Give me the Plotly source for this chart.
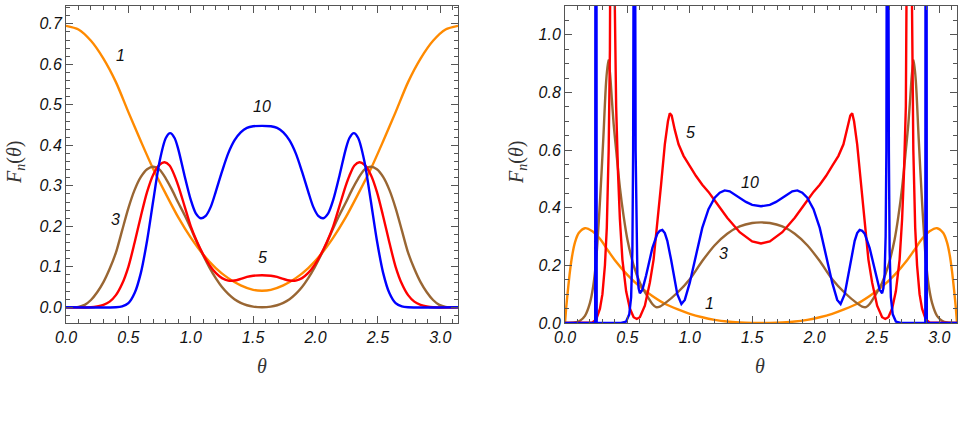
import plotly.graph_objects as go

PI = 3.14159265

# ---------------- Left panel data ----------------
th_L1 = [0, 0.1, 0.2, 0.3, 0.4, 0.5, 0.6, 0.7, 0.8, 0.9, 1.0, 1.1, 1.2, 1.3, 1.4, 1.5, 1.5708,
         1.6416, 1.7416, 1.8416, 1.9416, 2.0416, 2.1416, 2.2416, 2.3416, 2.4416, 2.5416, 2.6416,
         2.7416, 2.8416, 2.9416, 3.0416, 3.1416]
F_L1 = [0.695, 0.686, 0.658, 0.614, 0.556, 0.482, 0.41, 0.341, 0.28, 0.222, 0.172, 0.13, 0.097,
        0.072, 0.054, 0.043, 0.041,
        0.043, 0.054, 0.072, 0.097, 0.13, 0.172, 0.222, 0.28, 0.341, 0.41, 0.482, 0.556, 0.614,
        0.658, 0.686, 0.695]

th_L3 = [0, 0.1, 0.15, 0.2, 0.25, 0.3, 0.35, 0.4, 0.45, 0.5, 0.55, 0.6, 0.65, 0.7, 0.75, 0.8,
         0.85, 0.9, 0.95, 1.0, 1.05, 1.1, 1.15, 1.2, 1.25, 1.3, 1.35, 1.4, 1.45, 1.5, 1.5708,
         1.6416, 1.6916, 1.7416, 1.7916, 1.8416, 1.8916, 1.9416, 1.9916, 2.0416, 2.0916, 2.1416,
         2.1916, 2.2416, 2.2916, 2.3416, 2.3916, 2.4416, 2.4916, 2.5416, 2.5916, 2.6416, 2.6916,
         2.7416, 2.7916, 2.8416, 2.8916, 2.9416, 2.9916, 3.0416, 3.1416]
F_L3 = [0, 0.001, 0.006, 0.018, 0.037, 0.062, 0.095, 0.135, 0.19, 0.245, 0.29, 0.322, 0.341,
        0.347, 0.34, 0.318, 0.29, 0.258, 0.228, 0.195, 0.16, 0.128, 0.098, 0.072, 0.05, 0.033,
        0.02, 0.011, 0.005, 0.0015, 0,
        0.0015, 0.005, 0.011, 0.02, 0.033, 0.05, 0.072, 0.098, 0.128, 0.16, 0.195, 0.228, 0.258,
        0.29, 0.318, 0.34, 0.347, 0.341, 0.322, 0.29, 0.245, 0.19, 0.135, 0.095, 0.062, 0.037,
        0.018, 0.006, 0.001, 0]

th_L5 = [0, 0.2, 0.25, 0.3, 0.35, 0.4, 0.45, 0.5, 0.55, 0.6, 0.65, 0.7, 0.75, 0.79, 0.83, 0.87,
         0.9, 0.95, 1.0, 1.05, 1.1, 1.15, 1.2, 1.25, 1.3, 1.35, 1.4, 1.45, 1.5, 1.5708,
         1.6416, 1.6916, 1.7416, 1.7916, 1.8416, 1.8916, 1.9416, 1.9916, 2.0416, 2.0916, 2.1416,
         2.1916, 2.2416, 2.2716, 2.3116, 2.3516, 2.3916, 2.4416, 2.4916, 2.5416, 2.5916, 2.6416,
         2.6916, 2.7416, 2.7916, 2.8416, 2.8916, 2.9416, 3.1416]
F_L5 = [0, 0, 0.002, 0.006, 0.014, 0.03, 0.058, 0.1, 0.16, 0.225, 0.285, 0.328, 0.352, 0.358,
        0.35, 0.325, 0.3, 0.25, 0.2, 0.162, 0.13, 0.104, 0.085, 0.072, 0.066, 0.066, 0.07, 0.075,
        0.078, 0.079,
        0.078, 0.075, 0.07, 0.066, 0.066, 0.072, 0.085, 0.104, 0.13, 0.162, 0.2, 0.25, 0.3,
        0.325, 0.35, 0.358, 0.352, 0.328, 0.285, 0.225, 0.16, 0.1, 0.058, 0.03, 0.014, 0.006,
        0.002, 0, 0]

th_L10 = [0, 0.4, 0.45, 0.5, 0.55, 0.6, 0.65, 0.7, 0.75, 0.8, 0.835, 0.87, 0.9, 0.95, 1.0, 1.04,
          1.08, 1.12, 1.16, 1.2, 1.25, 1.3, 1.35, 1.4, 1.45, 1.5, 1.5708,
          1.6416, 1.6916, 1.7416, 1.7916, 1.8416, 1.8916, 1.9416, 1.9816, 2.0216, 2.0616, 2.1016,
          2.1416, 2.1916, 2.2416, 2.2716, 2.3066, 2.3416, 2.3916, 2.4416, 2.4916, 2.5416, 2.5916,
          2.6416, 2.6916, 2.7416, 3.1416]
F_L10 = [0, 0, 0.002, 0.01, 0.035, 0.085, 0.165, 0.265, 0.36, 0.418, 0.43, 0.418, 0.39, 0.325,
         0.265, 0.232, 0.22, 0.226, 0.248, 0.285, 0.335, 0.38, 0.412, 0.432, 0.443, 0.447, 0.448,
         0.447, 0.443, 0.432, 0.412, 0.38, 0.335, 0.285, 0.248, 0.226, 0.22, 0.232, 0.265, 0.325,
         0.39, 0.418, 0.43, 0.418, 0.36, 0.265, 0.165, 0.085, 0.035, 0.01, 0.002, 0, 0]

# ---------------- Right panel data ----------------
th_R1 = [0, 0.01, 0.02, 0.04, 0.06, 0.08, 0.11, 0.16, 0.22, 0.28, 0.35, 0.4, 0.5, 0.6, 0.7, 0.8,
         0.9, 1.0, 1.1, 1.2, 1.3, 1.4, 1.5, 1.5708,
         1.6416, 1.7416, 1.8416, 1.9416, 2.0416, 2.1416, 2.2416, 2.3416, 2.4416, 2.5416, 2.6416,
         2.7416, 2.7916, 2.8616, 2.9216, 2.9816, 3.0316, 3.0616, 3.0816, 3.1016, 3.1216, 3.1316,
         3.1416]
F_R1 = [0, 0.055, 0.1, 0.18, 0.24, 0.28, 0.312, 0.329, 0.318, 0.292, 0.248, 0.218, 0.167, 0.126,
        0.094, 0.067, 0.048, 0.032, 0.02, 0.011, 0.005, 0.002, 0.0004, 0,
        0.0004, 0.002, 0.005, 0.011, 0.02, 0.032, 0.048, 0.067, 0.094, 0.126, 0.167, 0.218,
        0.248, 0.292, 0.318, 0.329, 0.312, 0.28, 0.24, 0.18, 0.1, 0.055, 0]

th_R3 = [0, 0.08, 0.12, 0.16, 0.2, 0.227, 0.25, 0.28, 0.307, 0.33, 0.347, 0.36, 0.375, 0.39,
         0.41, 0.44, 0.47, 0.5, 0.55, 0.6, 0.65, 0.7, 0.73, 0.76, 0.8, 0.9, 1.0, 1.1, 1.2, 1.3,
         1.4, 1.5, 1.5708,
         1.6416, 1.7416, 1.8416, 1.9416, 2.0416, 2.1416, 2.2416, 2.3416, 2.3816, 2.4116, 2.4416,
         2.4916, 2.5416, 2.5916, 2.6416, 2.6716, 2.7016, 2.7316, 2.7516, 2.7666, 2.7816, 2.7946,
         2.8116, 2.8346, 2.8616, 2.8916, 2.9146, 2.9416, 2.9816, 3.0216, 3.0616, 3.1416]
F_R3 = [0, 0.002, 0.008, 0.025, 0.07, 0.13, 0.22, 0.42, 0.64, 0.84, 0.912, 0.87, 0.78, 0.69,
        0.6, 0.47, 0.37, 0.29, 0.2, 0.14, 0.1, 0.066, 0.055, 0.057, 0.068, 0.105, 0.152, 0.215,
        0.27, 0.31, 0.335, 0.347, 0.349,
        0.347, 0.335, 0.31, 0.27, 0.215, 0.152, 0.105, 0.068, 0.057, 0.055, 0.066, 0.1, 0.14,
        0.2, 0.29, 0.37, 0.47, 0.6, 0.69, 0.78, 0.87, 0.912, 0.84, 0.64, 0.42, 0.22, 0.13, 0.07,
        0.025, 0.008, 0.002, 0]

th_R5 = [0, 0.22, 0.25, 0.28, 0.3, 0.32, 0.335, 0.35, 0.36, 0.367, 0.378, 0.39, 0.398, 0.41,
         0.425, 0.44, 0.46, 0.49, 0.52, 0.55, 0.575, 0.6, 0.64, 0.68, 0.71, 0.74, 0.77, 0.8,
         0.825, 0.84, 0.855, 0.88, 0.91, 0.95, 1.0, 1.05, 1.1, 1.15, 1.2, 1.3, 1.4, 1.5, 1.5708,
         1.6416, 1.7416, 1.8416, 1.9416, 1.9916, 2.0416, 2.0916, 2.1416, 2.1916, 2.2316, 2.2616,
         2.2866, 2.3016, 2.3166, 2.3416, 2.3716, 2.4016, 2.4316, 2.4616, 2.5016, 2.5416, 2.5666,
         2.5916, 2.6216, 2.6516, 2.6816, 2.7016, 2.7166, 2.7316, 2.7436, 2.7516, 2.7636, 2.7746,
         2.7816, 2.7916, 2.8066, 2.8216, 2.8416, 2.8616, 2.8916, 2.9216, 3.1416]
F_R5 = [0, 0.002, 0.012, 0.05, 0.1, 0.2, 0.33, 0.6, 0.95, 1.4, 3.0, 1.4, 1.05, 0.75, 0.52, 0.36,
        0.22, 0.11, 0.05, 0.02, 0.014, 0.02, 0.06, 0.14, 0.22, 0.34, 0.48, 0.62, 0.7, 0.728,
        0.72, 0.67, 0.62, 0.58, 0.545, 0.51, 0.48, 0.455, 0.425, 0.365, 0.315, 0.283, 0.276,
        0.283, 0.315, 0.365, 0.425, 0.455, 0.48, 0.51, 0.545, 0.58, 0.62, 0.67, 0.72, 0.728,
        0.7, 0.62, 0.48, 0.34, 0.22, 0.14, 0.06, 0.02, 0.014, 0.02, 0.05, 0.11, 0.22, 0.36,
        0.52, 0.75, 1.05, 1.4, 3.0, 1.4, 0.95, 0.6, 0.33, 0.2, 0.1, 0.05, 0.012, 0.002, 0]

th_R10 = [0, 0.242, 0.248, 0.254, 0.45, 0.49, 0.515, 0.53, 0.54, 0.546, 0.551, 0.556, 0.561,
          0.566, 0.572, 0.58, 0.59, 0.6, 0.62, 0.65, 0.7, 0.74, 0.76, 0.78, 0.8, 0.82, 0.85,
          0.9, 0.933, 0.96, 1.0, 1.05, 1.1, 1.15, 1.2, 1.24, 1.28, 1.32, 1.38, 1.45, 1.5, 1.5708,
          1.6416, 1.6916, 1.7616, 1.8216, 1.8616, 1.9016, 1.9416, 1.9916, 2.0416, 2.0916, 2.1416,
          2.1816, 2.2086, 2.2416, 2.2916, 2.3216, 2.3416, 2.3616, 2.3816, 2.4016, 2.4416, 2.4916,
          2.5216, 2.5416, 2.5516, 2.5616, 2.5696, 2.5756, 2.5806, 2.5856, 2.5906, 2.5956, 2.6016,
          2.6116, 2.6266, 2.6516, 2.6916, 2.8876, 2.8936, 2.8996, 3.1416]
F_R10 = [0, 0, 5.0, 0, 0, 0.005, 0.03, 0.09, 0.25, 0.6, 1.5, 3.0, 1.5, 0.6, 0.3, 0.17, 0.12,
         0.103, 0.115, 0.165, 0.26, 0.31, 0.32, 0.323, 0.312, 0.285, 0.22, 0.1, 0.066, 0.08,
         0.14, 0.24, 0.33, 0.395, 0.435, 0.452, 0.46, 0.457, 0.44, 0.42, 0.41, 0.405,
         0.41, 0.42, 0.44, 0.457, 0.46, 0.452, 0.435, 0.395, 0.33, 0.24, 0.14, 0.08, 0.066, 0.1,
         0.22, 0.285, 0.312, 0.323, 0.32, 0.31, 0.26, 0.165, 0.115, 0.103, 0.12, 0.17, 0.3, 0.6,
         1.5, 3.0, 1.5, 0.6, 0.25, 0.09, 0.03, 0.005, 0, 0, 5.0, 0, 0]

# curve labels
labels_L = ["1", "10", "3", "5"]
lab_L_x = [0.433, 1.569, 0.393, 1.574]
lab_L_y = [0.623, 0.495, 0.216, 0.123]
labels_R = ["5", "10", "3", "1"]
lab_R_x = [1.006, 1.48, 1.27, 1.16]
lab_R_y = [0.66, 0.488, 0.242, 0.068]

ORANGE = "#FF8A00"
BROWN = "#996633"
RED = "#FF0000"
BLUE = "#0000FF"
LW = 2.4

fig = go.Figure()

def add(x, y, color, xa, ya, shape="spline"):
    fig.add_trace(go.Scatter(x=x, y=y, mode="lines", xaxis=xa, yaxis=ya,
                             line=dict(color=color, width=LW, shape=shape, smoothing=0.8),
                             showlegend=False, hoverinfo="skip"))

add(th_L1, F_L1, ORANGE, "x", "y")
add(th_L3, F_L3, BROWN, "x", "y")
add(th_L5, F_L5, RED, "x", "y")
add(th_L10, F_L10, BLUE, "x", "y")

add(th_R1, F_R1, ORANGE, "x2", "y2")
add(th_R3, F_R3, BROWN, "x2", "y2")
add(th_R5, F_R5, RED, "x2", "y2", shape="linear")
add(th_R10, F_R10, BLUE, "x2", "y2", shape="linear")

W, H = 964, 428
tickfont = dict(family="Liberation Sans, Arial, sans-serif", size=16, color="#111", style="italic")
FRAME = "#555555"

def xax(domain):
    return dict(domain=domain, range=[0, PI], tick0=0, dtick=0.5, tickformat=".1f",
                ticks="inside", ticklen=7, tickcolor=FRAME, tickwidth=1,
                minor=dict(dtick=0.1, ticks="inside", ticklen=4, tickcolor=FRAME),
                showline=True, linecolor=FRAME, linewidth=1, mirror="allticks",
                showgrid=False, zeroline=False, tickfont=tickfont, automargin=False)

def yax(rng, dt, mdt, anchor):
    return dict(domain=[0, 1], range=rng, tick0=0, dtick=dt, tickformat=".1f",
                ticks="inside", ticklen=7, tickcolor=FRAME, tickwidth=1,
                minor=dict(dtick=mdt, ticks="inside", ticklen=4, tickcolor=FRAME),
                showline=True, linecolor=FRAME, linewidth=1, mirror="allticks",
                showgrid=False, zeroline=False, tickfont=tickfont, automargin=False,
                anchor=anchor)

xa1 = xax([66 / W, 458 / W]); xa1["anchor"] = "y"
xa2 = xax([565 / W, 957 / W]); xa2["anchor"] = "y2"

fig.update_layout(
    width=W, height=H,
    margin=dict(l=0, r=0, t=6, b=105),
    paper_bgcolor="white", plot_bgcolor="white",
    xaxis=xa1, yaxis=yax([-0.0388, 0.744], 0.1, 0.02, "x"),
    xaxis2=xa2, yaxis2=yax([0, 1.1], 0.2, 0.05, "x2"),
)

lab_font = dict(family="Liberation Sans, Arial, sans-serif", size=16, color="#111", style="italic")
ann = []
for t, x, y in zip(labels_L, lab_L_x, lab_L_y):
    ann.append(dict(text=t, x=x, y=y, xref="x", yref="y", showarrow=False, font=lab_font))
for t, x, y in zip(labels_R, lab_R_x, lab_R_y):
    ann.append(dict(text=t, x=x, y=y, xref="x2", yref="y2", showarrow=False, font=lab_font))

title_font = dict(family="Liberation Serif, Times New Roman, serif", size=20, color="#333")
ph = 317.0
for px in (15, 517):
    ann.append(dict(text="<i>F<sub>n</sub></i>(<i>θ</i>)", x=px / W, y=(323 - 163) / ph,
                    xref="paper", yref="paper", showarrow=False, textangle=-90,
                    font=title_font, xanchor="center", yanchor="middle"))
for px in (262, 760):
    ann.append(dict(text="<i>θ</i>", x=px / W, y=(323 - 366) / ph,
                    xref="paper", yref="paper", showarrow=False,
                    font=title_font, xanchor="center", yanchor="middle"))
fig.update_layout(annotations=ann)

fig.write_html("out.html")
